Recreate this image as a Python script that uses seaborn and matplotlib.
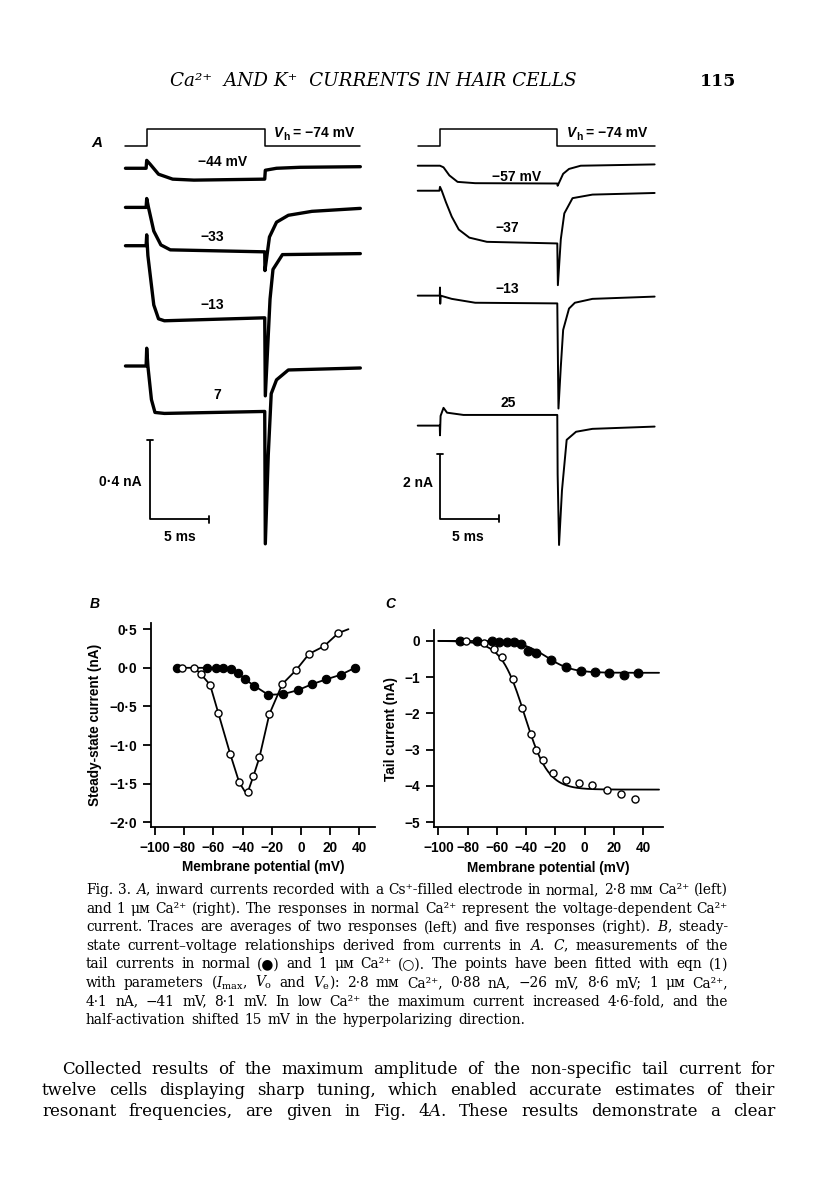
import numpy as np
import pandas as pd
import matplotlib
matplotlib.use("Agg")
import matplotlib.pyplot as plt
import seaborn as sns

# ---------------------------------------------------------------- data
# Panel A: command step (relative level) and current traces (ms, nA rel. to holding)
cmd_t_left = [-1.8, 0.0, 0.0, 10.0, 10.0, 18.1]
cmd_t_right = [-1.9, 0.0, 0.0, 10.0, 10.0, 18.3]
cmd_level = [0, 0, 1, 1, 0, 0]

left_labels = ["\u221244 mV", "\u221233", "\u221213", "7"]
l44_t = [-1.8, -0.05, 0.0, 0.3, 1.0, 2.2, 4.0, 10.0, 10.05, 11.0, 13.0, 18.1]
l44_i = [0.0, 0.0, 0.04, 0.02, -0.03, -0.055, -0.06, -0.055, -0.01, 0.0, 0.005, 0.008]
l33_t = [-1.8, -0.05, 0.0, 0.15, 0.6, 1.2, 2.0, 10.0, 10.02, 10.4, 11.0, 12.0, 14.0, 18.1]
l33_i = [0.0, 0.0, 0.045, 0.0, -0.12, -0.19, -0.215, -0.225, -0.32, -0.15, -0.075, -0.04, -0.02, -0.005]
l13_t = [-1.8, -0.05, 0.0, 0.1, 0.6, 1.0, 1.5, 10.0, 10.05, 10.45, 10.7, 11.5, 18.1]
l13_i = [0.0, 0.0, 0.055, -0.05, -0.3, -0.37, -0.38, -0.365, -0.76, -0.27, -0.12, -0.045, -0.04]
l7_t = [-1.8, -0.05, 0.0, 0.1, 0.4, 0.7, 1.5, 10.0, 10.05, 10.3, 10.55, 11.0, 12.0, 18.1]
l7_i = [0.0, 0.0, 0.09, 0.0, -0.17, -0.235, -0.24, -0.23, -0.9, -0.45, -0.14, -0.07, -0.02, -0.01]

right_labels = ["\u221257 mV", "\u221237", "\u221213", "25"]
r57_t = [-1.9, 0.0, 0.3, 0.8, 1.5, 3.0, 10.0, 10.03, 10.5, 11.0, 12.0, 18.3]
r57_i = [0.0, 0.0, -0.05, -0.3, -0.5, -0.54, -0.55, -0.62, -0.25, -0.1, 0.0, 0.04]
r37_t = [-1.9, -0.05, 0.0, 0.15, 0.5, 1.0, 1.6, 2.5, 4.0, 10.0, 10.05, 10.3, 10.6, 11.3, 13.0, 18.3]
r37_i = [0.0, 0.0, 0.12, 0.0, -0.35, -0.8, -1.2, -1.45, -1.58, -1.63, -2.92, -1.5, -0.7, -0.23, -0.12, -0.07]
r13_t = [-1.9, -0.02, 0.0, 0.02, 0.05, 1.0, 3.0, 10.0, 10.1, 10.3, 10.5, 11.0, 11.5, 13.0, 18.3]
r13_i = [0.0, 0.0, 0.25, -0.25, 0.0, -0.1, -0.22, -0.24, -3.49, -2.2, -1.06, -0.4, -0.22, -0.1, -0.03]
r25_t = [-1.9, -0.02, 0.0, 0.05, 0.3, 0.6, 2.0, 10.0, 10.03, 10.15, 10.4, 10.8, 11.6, 13.0, 18.3]
r25_i = [0.0, 0.0, -0.3, 0.3, 0.55, 0.4, 0.33, 0.33, -1.5, -3.69, -2.0, -0.44, -0.19, -0.1, -0.03]

scale_ms = 5
scale_nA_left = 0.4
scale_nA_right = 2

# Panel B: steady-state I-V (mV, nA)
b_fill_v = [-85.2, -64.6, -58.4, -53.2, -48.2, -42.9, -38.3, -32.2, -22.4, -12.1, -2.3, 7.8, 17.2, 27.2, 37.0]
b_fill_i = [0.0, 0.0, 0.0, 0.0, -0.01, -0.07, -0.15, -0.23, -0.35, -0.34, -0.29, -0.21, -0.15, -0.09, 0.0]
b_open_v = [-81.3, -73.0, -68.7, -62.3, -56.6, -48.6, -42.4, -36.5, -32.6, -28.5, -21.7, -12.8, -3.4, 5.5, 15.8, 25.6]
b_open_i = [0.0, 0.0, -0.08, -0.22, -0.59, -1.11, -1.48, -1.61, -1.40, -1.16, -0.60, -0.21, -0.03, 0.18, 0.28, 0.45]
b_open_curve_v = [-73.0, -68.7, -62.3, -56.6, -48.6, -42.4, -38.5, -36.5, -32.6, -28.5, -21.7, -12.8, -3.4, 5.5, 15.8, 25.6, 32.5]
b_open_curve_i = [0.0, -0.08, -0.22, -0.59, -1.11, -1.48, -1.60, -1.61, -1.40, -1.16, -0.60, -0.21, -0.03, 0.18, 0.28, 0.45, 0.50]
b_yticks = [0.5, 0.0, -0.5, -1.0, -1.5, -2.0]
b_yticklabels = ["0\u00b75", "0\u00b70", "\u22120\u00b75", "\u22121\u00b70", "\u22121\u00b75", "\u22122\u00b70"]

# Panel C: tail currents (mV, nA)
c_fill_v = [-85.2, -73.4, -63.6, -58.6, -53.3, -48.3, -43.3, -38.5, -32.9, -22.6, -12.4, -2.6, 7.4, 16.5, 27.0, 36.6]
c_fill_i = [0.0, 0.0, 0.0, -0.02, -0.02, -0.04, -0.09, -0.28, -0.34, -0.54, -0.71, -0.83, -0.86, -0.89, -0.95, -0.89]
c_open_v = [-81.3, -68.8, -62.0, -56.3, -48.8, -43.1, -36.9, -33.3, -28.7, -21.7, -12.8, -3.9, 5.0, 15.4, 25.2, 34.5]
c_open_i = [0.0, -0.06, -0.23, -0.45, -1.05, -1.85, -2.57, -3.0, -3.28, -3.63, -3.84, -3.92, -3.98, -4.11, -4.22, -4.36]
# eqn (1) fit parameters from the legend: Imax (nA), V0 (mV), Ve (mV)
fit_imax = [0.88, 4.1]
fit_v0 = [-26.0, -41.0]
fit_ve = [8.6, 8.1]
c_yticks = [0, -1, -2, -3, -4, -5]
c_yticklabels = ["0", "\u22121", "\u22122", "\u22123", "\u22124", "\u22125"]

x_ticks = [-100, -80, -60, -40, -20, 0, 20, 40]
x_ticklabels = ["\u2212100", "\u221280", "\u221260", "\u221240", "\u221220", "0", "20", "40"]

header = "Ca\u00b2\u207a  AND K\u207a  CURRENTS IN HAIR CELLS"
page_no = "115"
caption = [
    "Fig. 3. $A$, inward currents recorded with a Cs\u207a-filled electrode in normal, 2\u00b78 m\u1d0d Ca\u00b2\u207a (left)",
    "and 1 \u03bc\u1d0d Ca\u00b2\u207a (right). The responses in normal Ca\u00b2\u207a represent the voltage-dependent Ca\u00b2\u207a",
    "current. Traces are averages of two responses (left) and five responses (right). $B$, steady-",
    "state current\u2013voltage relationships derived from currents in $A$. $C$, measurements of the",
    "tail currents in normal (\u25cf) and 1 \u03bc\u1d0d Ca\u00b2\u207a (\u25cb). The points have been fitted with eqn (1)",
    "with parameters ($I_\\mathrm{max}$, $V_\\mathrm{o}$ and $V_\\mathrm{e}$): 2\u00b78 m\u1d0d Ca\u00b2\u207a, 0\u00b788 nA, \u221226 mV, 8\u00b76 mV; 1 \u03bc\u1d0d Ca\u00b2\u207a,",
    "4\u00b71 nA, \u221241 mV, 8\u00b71 mV. In low Ca\u00b2\u207a the maximum current increased 4\u00b76-fold, and the",
    "half-activation shifted 15 mV in the hyperpolarizing direction.",
]
body = [
    "Collected results of the maximum amplitude of the non-specific tail current for",
    "twelve cells displaying sharp tuning, which enabled accurate estimates of their",
    "resonant frequencies, are given in Fig. 4$A$. These results demonstrate a clear",
]

# ---------------------------------------------------------------- style
sns.set_theme(style="ticks")
SANS = ["Liberation Sans", "DejaVu Sans"]
SERIF = ["DejaVu Serif", "DejaVu Sans"]
plt.rcParams["font.family"] = SANS
plt.rcParams["mathtext.fontset"] = "dejavuserif"
plt.rcParams["axes.linewidth"] = 1.3
for key in ("text.color", "axes.labelcolor", "xtick.color", "ytick.color", "axes.edgecolor"):
    plt.rcParams[key] = "black"

W, H = 816, 1200
fig = plt.figure(figsize=(W / 100, H / 100), dpi=100)
fig.patch.set_facecolor("white")
renderer = fig.canvas.get_renderer()


def rect(x0, y0, x1, y1):
    return [x0 / W, 1 - y1 / H, (x1 - x0) / W, (y1 - y0) / H]


def ftext(x, y, s, **kw):
    kw.setdefault("color", "black")
    return fig.text(x / W, 1 - y / H, s, **kw)


def width_px(t):
    return t.get_window_extent(renderer).width


# ---------------------------------------------------------------- panel A
axL = fig.add_axes(rect(110, 110, 370, 560))
axL.set_xlim(-3.11, 18.92)
axL.set_ylim(-2.278, 0)
axR = fig.add_axes(rect(400, 110, 670, 560))
axR.set_xlim(-3.41, 19.61)
axR.set_ylim(-13.91, 0)
for a in (axL, axR):
    a.set_axis_off()

# command steps
sns.lineplot(x=cmd_t_left, y=[-0.181 + 0.085 * v for v in cmd_level], ax=axL,
             sort=False, estimator=None, color="black", lw=1.1)
sns.lineplot(x=cmd_t_right, y=[-1.104 + 0.516 * v for v in cmd_level], ax=axR,
             sort=False, estimator=None, color="black", lw=1.1)

left_traces = [(l44_t, l44_i), (l33_t, l33_i), (l13_t, l13_i), (l7_t, l7_i)]
left_offsets = [-0.295, -0.493, -0.687, -1.296]
for (t, i), off in zip(left_traces, left_offsets):
    sns.lineplot(x=t, y=[v + off for v in i], ax=axL, sort=False, estimator=None,
                 color="black", lw=2.4)

right_traces = [(r57_t, r57_i), (r37_t, r37_i), (r13_t, r13_i), (r25_t, r25_i)]
right_offsets = [-1.722, -2.495, -5.738, -9.756]
for (t, i), off in zip(right_traces, right_offsets):
    sns.lineplot(x=t, y=[v + off for v in i], ax=axR, sort=False, estimator=None,
                 color="black", lw=1.4)


def scale_bar(ax, x0, y0, dx, dy, cap_x, cap_y):
    ax.plot([x0, x0, x0 + dx], [y0 + dy, y0, y0], color="black", lw=1.3, solid_capstyle="butt")
    ax.plot([x0 - cap_x, x0 + cap_x], [y0 + dy, y0 + dy], color="black", lw=1.3)
    ax.plot([x0 + dx, x0 + dx], [y0 - cap_y, y0 + cap_y], color="black", lw=1.3)


scale_bar(axL, 0.28, -2.071, scale_ms, scale_nA_left, 0.22, 0.018)
scale_bar(axR, 0.0, -12.63, scale_ms, scale_nA_right, 0.22, 0.11)

lab = dict(fontsize=10, fontweight="bold")
ftext(142, 482, "0\u00b74 nA", ha="right", va="center", **lab)
ftext(180, 537, "5 ms", ha="center", va="center", **lab)
ftext(433, 483, "2 nA", ha="right", va="center", **lab)
ftext(468, 537, "5 ms", ha="center", va="center", **lab)

for s, (x, y) in zip(left_labels, [(223, 162), (212, 237), (212, 305), (217, 395)]):
    ftext(x, y, s, ha="center", va="center", **lab)
for s, (x, y) in zip(right_labels, [(517, 177), (507, 228), (507, 289), (508, 403)]):
    ftext(x, y, s, ha="center", va="center", **lab)


def vh_label(x, y):
    t1 = ftext(x, y, "V", ha="left", va="baseline", fontstyle="italic", **lab)
    w1 = width_px(t1)
    t2 = ftext(x + w1, y + 3, "h", ha="left", va="baseline", fontsize=7.5, fontweight="bold")
    w2 = width_px(t2)
    ftext(x + w1 + w2 + 3, y, "= \u221274 mV", ha="left", va="baseline", **lab)


vh_label(274, 137)
vh_label(567, 137)

ftext(97, 143, "A", ha="center", va="center", fontsize=11, fontweight="bold", fontstyle="italic")
ftext(95, 604, "B", ha="center", va="center", fontsize=10, fontweight="bold", fontstyle="italic")
ftext(390, 604, "C", ha="center", va="center", fontsize=10, fontweight="bold", fontstyle="italic")

# ---------------------------------------------------------------- panel B
axB = fig.add_axes(rect(150.7, 623, 375, 827))
sns.lineplot(x=b_fill_v, y=b_fill_i, ax=axB, sort=False, estimator=None, color="black", lw=1.3)
sns.lineplot(x=b_open_curve_v, y=b_open_curve_i, ax=axB, sort=False, estimator=None,
             color="black", lw=1.3)
sns.scatterplot(x=b_fill_v, y=b_fill_i, ax=axB, marker="o", s=36, color="black",
                edgecolor="black", linewidth=0.8, zorder=3)
sns.scatterplot(x=b_open_v, y=b_open_i, ax=axB, marker="o", s=26, color="white",
                edgecolor="black", linewidth=1.0, zorder=4)
axB.set_xlim(-103, 50.7)
axB.set_ylim(-2.06, 0.58)
axB.set_yticks(b_yticks, b_yticklabels)
axB.set_ylabel("Steady-state current (nA)", fontsize=9.8, fontweight="bold", labelpad=5)

# ---------------------------------------------------------------- panel C
axC = fig.add_axes(rect(434, 630, 663, 827.3))
v_fit = np.linspace(-100, 51, 400)
for imax, v0, ve in zip(fit_imax, fit_v0, fit_ve):
    sns.lineplot(x=v_fit, y=-imax / (1 + np.exp((v0 - v_fit) / ve)), ax=axC,
                 sort=False, estimator=None, color="black", lw=1.3)
sns.scatterplot(x=c_fill_v, y=c_fill_i, ax=axC, marker="o", s=40, color="black",
                edgecolor="black", linewidth=0.8, zorder=3)
sns.scatterplot(x=c_open_v, y=c_open_i, ax=axC, marker="o", s=26, color="white",
                edgecolor="black", linewidth=1.0, zorder=4)
axC.set_xlim(-103, 53.7)
axC.set_ylim(-5.14, 0.30)
axC.set_yticks(c_yticks, c_yticklabels)
axC.set_ylabel("Tail current (nA)", fontsize=9.8, fontweight="bold", labelpad=5)

for a in (axB, axC):
    a.set_xticks(x_ticks, x_ticklabels)
    a.set_xlabel("Membrane potential (mV)", fontsize=9.8, fontweight="bold", labelpad=4)
    a.tick_params(direction="out", length=6, width=1.3, labelsize=9.8, pad=4, colors="black")
    for lbl in a.get_xticklabels() + a.get_yticklabels():
        lbl.set_fontweight("bold")
    sns.despine(ax=a)
    a.set_facecolor("white")


# ---------------------------------------------------------------- text
def justified(line, x0, x1, y, size, justify=True):
    words = line.split(" ")
    objs = [ftext(x0, y, w, fontsize=size, family=SERIF, ha="left", va="baseline")
            for w in words]
    widths = [width_px(t) for t in objs]
    if justify and len(objs) > 1:
        gap = (x1 - x0 - sum(widths)) / (len(objs) - 1)
    else:
        gap = size * 0.55
    x = x0
    for t, w in zip(objs, widths):
        t.set_x(x / W)
        x += w + gap


ftext(170, 86, header, fontsize=13.2, family=SERIF, fontstyle="italic",
      ha="left", va="baseline")
ftext(736, 86, page_no, fontsize=12.5, family=SERIF, fontweight="bold", ha="right", va="baseline")

cap_y0 = 894
for k, line in enumerate(caption):
    justified(line, 86, 728, cap_y0 + k * 18.6, 9.9, justify=(k < len(caption) - 1))

body_y = [1074, 1095, 1116]
body_x0 = [62, 42, 42]
for line, y, x0 in zip(body, body_y, body_x0):
    justified(line, x0, 775, y, 12.0)

fig.savefig("out.png", dpi=100, facecolor="white")
